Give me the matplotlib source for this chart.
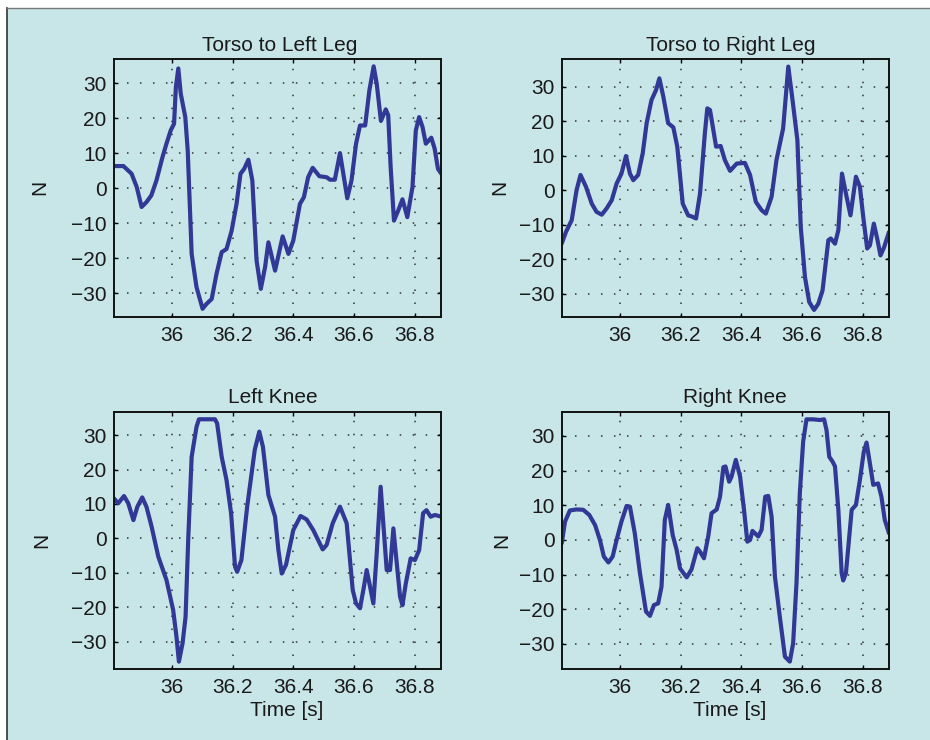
import matplotlib
matplotlib.use('Agg')
import matplotlib.pyplot as plt
from matplotlib.patches import Rectangle
from matplotlib.lines import Line2D

plt.rcParams['font.family'] = ['Liberation Sans', 'DejaVu Sans']
plt.rcParams['font.size'] = 15

bg = '#c8e6e8'
line_col = '#313896'

# Torso to Left Leg
t_tll = [35.809, 35.84, 35.867, 35.884, 35.9, 35.916, 35.932, 35.949, 35.969, 35.982,
         35.996, 36.007, 36.013, 36.021, 36.029, 36.044, 36.052, 36.065, 36.081, 36.101,
         36.114, 36.131, 36.147, 36.164, 36.18, 36.197, 36.213, 36.226, 36.238, 36.252,
         36.265, 36.279, 36.293, 36.307, 36.318, 36.34, 36.365, 36.384, 36.4, 36.422,
         36.435, 36.449, 36.464, 36.486, 36.51, 36.521, 36.537, 36.554, 36.565, 36.578,
         36.592, 36.607, 36.62, 36.637, 36.651, 36.665, 36.675, 36.689, 36.705, 36.713,
         36.721, 36.732, 36.746, 36.76, 36.776, 36.793, 36.804, 36.815, 36.826, 36.837,
         36.855, 36.866, 36.877, 36.888]
f_tll = [6.3, 6.3, 4.1, 0.3, -5.4, -4.0, -2.1, 2.2, 8.9, 12.7,
         16.5, 18.4, 28.9, 34.2, 27.0, 20.3, 10.8, -18.8, -28.3, -34.5,
         -33.1, -31.7, -24.5, -18.3, -17.4, -12.1, -4.5, 4.1, 5.5, 8.1,
         2.2, -20.7, -28.8, -22.6, -15.5, -23.6, -13.8, -18.8, -15.0, -4.5,
         -2.6, 3.1, 5.8, 3.4, 3.1, 2.4, 2.4, 10.0, 4.1, -2.9,
         2.2, 12.7, 17.9, 17.9, 28.0, 34.8, 29.9, 19.2, 22.5, 20.8,
         6.0, -9.3, -6.4, -3.2, -8.3, 0.3, 16.5, 20.3, 17.5, 12.7,
         14.4, 11.3, 5.5, 4.1]

# Torso to Right Leg
t_trl = [35.808, 35.822, 35.841, 35.857, 35.87, 35.888, 35.907, 35.923, 35.94, 35.956,
         35.973, 35.989, 36.005, 36.02, 36.033, 36.044, 36.06, 36.075, 36.088, 36.104,
         36.119, 36.13, 36.143, 36.159, 36.176, 36.189, 36.207, 36.225, 36.236, 36.251,
         36.264, 36.28, 36.288, 36.297, 36.317, 36.332, 36.346, 36.363, 36.385, 36.412,
         36.429, 36.448, 36.467, 36.481, 36.5, 36.516, 36.538, 36.555, 36.569, 36.585,
         36.596, 36.61, 36.624, 36.64, 36.654, 36.668, 36.687, 36.695, 36.709, 36.72,
         36.732, 36.745, 36.76, 36.778, 36.791, 36.802, 36.815, 36.824, 36.837, 36.848,
         36.859, 36.871, 36.887]
f_trl = [-15.5, -12.1, -8.7, 0.0, 4.4, 1.0, -3.9, -6.3, -7.1, -5.3,
         -2.9, 1.9, 4.8, 9.9, 4.8, 2.9, 4.4, 10.6, 19.4, 26.1,
         29.0, 32.4, 27.1, 19.4, 18.2, 12.6, -3.9, -7.3, -7.6, -8.2,
         -1.0, 16.5, 23.7, 23.2, 12.6, 12.8, 8.7, 5.6, 7.7, 7.9,
         4.4, -3.4, -5.8, -6.8, -1.9, 8.7, 17.9, 35.8, 26.1, 14.5,
         -10.6, -25.2, -32.4, -34.7, -32.9, -29.0, -14.5, -14.0, -15.5, -11.6,
         4.8, -1.0, -7.3, 3.9, 1.0, -7.7, -16.9, -16.0, -9.7, -14.0,
         -18.9, -16.5, -12.1]

# Left Knee
t_lk = [35.809, 35.823, 35.842, 35.856, 35.873, 35.886, 35.902, 35.916, 35.933, 35.955,
        35.982, 36.004, 36.015, 36.023, 36.035, 36.045, 36.054, 36.065, 36.081, 36.089,
        36.114, 36.142, 36.149, 36.164, 36.18, 36.195, 36.208, 36.215, 36.229, 36.248,
        36.273, 36.288, 36.3, 36.318, 36.34, 36.351, 36.362, 36.376, 36.4, 36.424,
        36.444, 36.466, 36.497, 36.51, 36.53, 36.554, 36.576, 36.596, 36.607, 36.62,
        36.633, 36.642, 36.651, 36.664, 36.675, 36.688, 36.696, 36.708, 36.719, 36.73,
        36.738, 36.752, 36.76, 36.771, 36.787, 36.801, 36.815, 36.828, 36.839, 36.853,
        36.867, 36.888]
f_lk = [11.6, 10.2, 12.3, 10.2, 5.3, 9.2, 11.9, 9.2, 3.4, -5.3,
        -12.1, -20.8, -28.6, -35.8, -30.5, -22.7, 0.5, 23.7, 32.4, 34.6,
        34.6, 34.6, 33.4, 23.7, 16.9, 7.3, -8.2, -9.7, -6.3, 9.2,
        25.7, 31.0, 26.6, 12.6, 6.3, -3.4, -10.2, -7.7, 2.4, 6.5,
        5.5, 2.4, -3.2, -1.9, 4.4, 9.2, 4.4, -15.0, -18.9, -20.3,
        -14.0, -9.2, -13.1, -18.9, -4.4, 15.0, 5.3, -9.2, -9.2, 2.9,
        -4.4, -16.9, -19.4, -13.1, -5.8, -6.3, -3.4, 7.3, 8.2, 6.3,
        6.8, 6.3]

# Right Knee
t_rk = [35.808, 35.819, 35.835, 35.857, 35.879, 35.899, 35.918, 35.934, 35.947, 35.962,
        35.976, 35.989, 36.005, 36.022, 36.033, 36.049, 36.066, 36.086, 36.099, 36.112,
        36.126, 36.137, 36.148, 36.159, 36.174, 36.187, 36.198, 36.22, 36.236, 36.255,
        36.264, 36.277, 36.291, 36.302, 36.319, 36.33, 36.341, 36.348, 36.36, 36.368,
        36.382, 36.396, 36.409, 36.42, 36.429, 36.437, 36.456, 36.467, 36.479, 36.489,
        36.5, 36.511, 36.527, 36.544, 36.56, 36.571, 36.582, 36.593, 36.604, 36.615,
        36.637, 36.659, 36.673, 36.681, 36.69, 36.701, 36.709, 36.72, 36.731, 36.736,
        36.745, 36.756, 36.764, 36.778, 36.791, 36.804, 36.813, 36.824, 36.835, 36.851,
        36.862, 36.873, 36.887]
f_rk = [-1.0, 5.3, 8.5, 8.8, 8.7, 7.2, 4.3, 0.0, -4.8, -6.5,
        -4.8, 0.0, 5.3, 9.8, 9.6, 1.9, -9.6, -20.7, -21.9, -18.8,
        -18.3, -13.5, 5.8, 10.1, 1.4, -2.9, -8.2, -10.8, -8.5, -2.4,
        -3.4, -5.3, 1.0, 7.7, 8.8, 12.5, 21.0, 21.2, 16.8, 18.3,
        23.1, 18.3, 8.7, -0.5, 0.0, 2.6, 1.0, 2.9, 12.5, 12.7,
        6.7, -10.6, -22.1, -33.7, -35.1, -29.8, -12.5, 13.5, 28.4, 34.8,
        34.8, 34.6, 34.8, 31.7, 24.0, 22.6, 21.2, 8.7, -9.6, -11.7,
        -9.6, 1.0, 8.7, 10.1, 17.3, 25.5, 28.1, 22.1, 15.9, 16.3,
        12.5, 5.8, 1.9]

titles = ['Torso to Left Leg', 'Torso to Right Leg', 'Left Knee', 'Right Knee']
series = [(t_tll, f_tll), (t_trl, f_trl), (t_lk, f_lk), (t_rk, f_rk)]
ylims = [(-36.7, 36.9), (-36.6, 38.0), (-38.0, 36.8), (-37.3, 37.0)]
xlim = (35.809, 36.887)
xticks = [36, 36.2, 36.4, 36.6, 36.8]
yticks = [-30, -20, -10, 0, 10, 20, 30]

fig = plt.figure(figsize=(9.3, 7.4), dpi=100, facecolor='white')
fig.patches.append(Rectangle((7 / 930, 0), 1, 1 - 8 / 740, transform=fig.transFigure,
                             facecolor=bg, edgecolor='none', zorder=-10))
fig.lines.append(Line2D([6.5 / 930, 6.5 / 930], [0, 1 - 7.5 / 740], transform=fig.transFigure,
                        color='#333333', lw=1.2))
fig.lines.append(Line2D([6.5 / 930, 1], [1 - 7.5 / 740, 1 - 7.5 / 740], transform=fig.transFigure,
                        color='#777777', lw=1.0))

# axes boxes in pixels: left, top
lefts = [114, 562, 114, 562]
tops = [59, 59, 411.7, 411.7]
w, h = 327, 257.5
ylab_x = [-0.199, -0.162, -0.193, -0.156]
title_x = [0.507, 0.517, 0.485, 0.528]
xlab_x = [0.529, 0.529, 0.529, 0.514]

for i in range(4):
    ax = fig.add_axes([lefts[i] / 930, 1 - (tops[i] + h) / 740, w / 930, h / 740])
    ax.set_facecolor(bg)
    t, f = series[i]
    ax.plot(t, f, color=line_col, lw=3.0, solid_joinstyle='round', solid_capstyle='round')
    ax.set_xlim(xlim)
    ax.set_ylim(ylims[i])
    ax.set_xticks(xticks)
    ax.set_xticklabels(['36', '36.2', '36.4', '36.6', '36.8'])
    ax.set_yticks(yticks)
    ax.grid(True, color='#333333', linestyle=(0, (1, 7.5)), lw=1.1)
    ax.tick_params(direction='in', top=True, right=True, length=3, width=1,
                   labelcolor='#1a1a1a')
    ax.tick_params(axis='x', pad=6.5)
    ax.tick_params(axis='y', pad=5.3)
    for s in ax.spines.values():
        s.set_linewidth(1.4)
        s.set_color('#111111')
    ax.set_title(titles[i], fontsize=15, x=title_x[i], color='#1a1a1a')
    ax.set_ylabel('N', color='#1a1a1a')
    ax.yaxis.set_label_coords(ylab_x[i], 0.5)
    if i >= 2:
        ax.set_xlabel('Time [s]', color='#1a1a1a')
        ax.xaxis.set_label_coords(xlab_x[i], -0.123)

plt.savefig('out.png', dpi=100, facecolor=fig.get_facecolor())
